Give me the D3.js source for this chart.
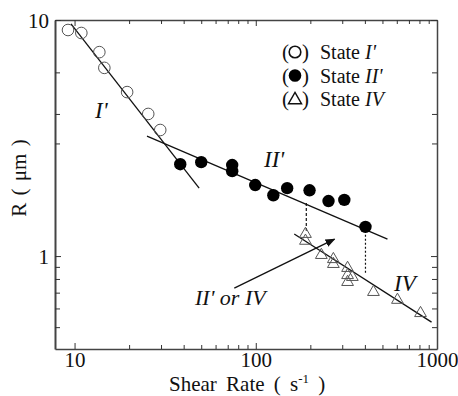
<!DOCTYPE html>
<html>
<head>
<meta charset="utf-8">
<script src="https://cdn.jsdelivr.net/npm/d3@7"></script>
<style>
  body { margin: 0; background: #fff; }
</style>
</head>
<body>
<div id="container"></div>
<script>
/* data: [shear rate, R] */
var stateI = [[9.2, 9.07], [10.9, 8.81], [13.7, 7.31], [14.6, 6.27], [19.5, 4.95], [25.5, 4.0], [29.7, 3.42]];
var stateII = [[38.3, 2.45], [50, 2.5], [74.1, 2.43], [74.1, 2.29], [99.3, 2.0], [125, 1.81], [149, 1.94],
               [198, 1.9], [252, 1.71], [308, 1.73], [403, 1.33]];
var stateIV = [[188, 1.24], [188, 1.16], [230, 1.01], [268, 0.97], [268, 0.925], [321, 0.89], [321, 0.83],
               [341, 0.815], [321, 0.776], [446, 0.704], [605, 0.652], [811, 0.573]];
var fitI = [[9.56, 9.62], [48.7, 1.94]];
var fitII = [[25.1, 3.22], [533, 1.18]];
var fitIV = [[163, 1.24], [933, 0.525]];
var dropLines = [[[190, 1.68], [190, 1.28]], [[403, 1.28], [403, 0.847]]];
var arrow = [[76.1, 0.732], [272, 1.18]];
var xTicks = [10, 20, 30, 40, 50, 60, 70, 80, 90, 100, 200, 300, 400, 500, 600, 700, 800, 900, 1000];
var xLabels = [10, 100, 1000];
var yTicks = [0.5, 0.6, 0.7, 0.8, 0.9, 1, 3, 4, 6, 10];
var yLabels = [1, 10];
var legendItems = ["I'", "II'", "IV"];

/* setup the dimensions */
var width = 458, height = 396;
var margin = { top: 20, bottom: 47, left: 55, right: 21 };
var serif = "Liberation Serif";

var x = d3.scaleLog().domain([7.8, 1000]).range([margin.left, width - margin.right]);
var y = d3.scaleLog().domain([0.404, 10]).range([height - margin.bottom, margin.top]);

var svg = d3.select("#container").append("svg")
  .attr("width", width).attr("height", height)
  .attr("font-family", serif);

svg.append("defs").append("marker")
  .attr("id", "head").attr("viewBox", "0 0 10 10")
  .attr("refX", 9).attr("refY", 5)
  .attr("markerWidth", 10).attr("markerHeight", 10)
  .attr("markerUnits", "userSpaceOnUse")
  .attr("orient", "auto")
  .append("path").attr("d", "M0,1L10,5L0,9Z").attr("fill", "#111");

/* axes, ticks pointing inward on all four sides */
function majorX(d) { return xLabels.indexOf(d) >= 0; }
function majorY(d) { return yLabels.indexOf(d) >= 0; }

var axBottom = svg.append("g").attr("transform", "translate(0," + y.range()[0] + ")")
  .call(d3.axisBottom(x).tickValues(xTicks).tickSizeOuter(0)
    .tickFormat(function(d) { return majorX(d) ? d : ""; }));
var axTop = svg.append("g").attr("transform", "translate(0," + margin.top + ")")
  .call(d3.axisTop(x).tickValues(xTicks).tickSizeOuter(0).tickFormat(""));
var axLeft = svg.append("g").attr("transform", "translate(" + margin.left + ",0)")
  .call(d3.axisLeft(y).tickValues(yTicks).tickSizeOuter(0)
    .tickFormat(function(d) { return majorY(d) ? d : ""; }));
var axRight = svg.append("g").attr("transform", "translate(" + x.range()[1] + ",0)")
  .call(d3.axisRight(y).tickValues(yTicks).tickSizeOuter(0).tickFormat(""));

[axBottom, axTop, axLeft, axRight].forEach(function(g) {
  g.attr("font-family", serif);
  g.select(".domain").attr("stroke", "#444").attr("stroke-width", 1.5);
  g.selectAll(".tick line").attr("stroke", "#333");
  g.selectAll("text").attr("font-family", serif).attr("font-size", 21).attr("fill", "#111");
});
axLeft.select(".domain").attr("stroke-width", 2);
axBottom.selectAll(".tick line").attr("y2", function(d) { return majorX(d) ? -6 : -4; });
axTop.selectAll(".tick line").attr("y2", function(d) { return majorX(d) ? 6 : 4; });
axLeft.selectAll(".tick line").attr("x2", function(d) { return majorY(d) ? 6 : 5; });
axRight.selectAll(".tick line").attr("x2", function(d) { return majorY(d) ? -6 : -5; });
axBottom.selectAll("text").attr("y", 3);
axLeft.selectAll("text").attr("x", -6).attr("dy", "0.35em");

/* axis titles */
var xt = svg.append("text").attr("x", 169).attr("y", 391)
  .attr("font-family", serif).attr("font-size", 21).attr("word-spacing", 4).attr("fill", "#111");
xt.append("tspan").text("Shear Rate ( s");
xt.append("tspan").attr("dy", -8).attr("font-size", 13).text("-1");
xt.append("tspan").attr("dy", 8).text(" )");

svg.append("text").attr("transform", "translate(26,178) rotate(-90)")
  .attr("text-anchor", "middle").attr("font-family", serif).attr("font-size", 21)
  .attr("word-spacing", 2).attr("fill", "#111").text("R ( \u03bcm )");

/* fitted lines, drop lines, arrow */
var line = d3.line().x(function(d) { return x(d[0]); }).y(function(d) { return y(d[1]); });
[fitI, fitII, fitIV].forEach(function(f) {
  svg.append("path").attr("d", line(f)).attr("fill", "none").attr("stroke", "#111").attr("stroke-width", 1.3);
});
svg.selectAll(".drop").data(dropLines).enter().append("path")
  .attr("class", "drop").attr("d", line).attr("fill", "none")
  .attr("stroke", "#111").attr("stroke-width", 1.2)
  .attr("stroke-dasharray", function(d, i) { return i == 0 ? "3,2" : "2,2"; });
svg.append("path").attr("d", line(arrow)).attr("fill", "none")
  .attr("stroke", "#111").attr("stroke-width", 1.3).attr("marker-end", "url(#head)");

/* points */
svg.selectAll(".sI").data(stateI).enter().append("circle")
  .attr("cx", function(d) { return x(d[0]); }).attr("cy", function(d) { return y(d[1]); })
  .attr("r", 5.8).attr("fill", "none").attr("stroke", "#555").attr("stroke-width", 1);
svg.selectAll(".sII").data(stateII).enter().append("circle")
  .attr("cx", function(d) { return x(d[0]); }).attr("cy", function(d) { return y(d[1]); })
  .attr("r", 6.2).attr("fill", "#000");
var tri = d3.symbol().type(d3.symbolTriangle).size(60);
svg.selectAll(".sIV").data(stateIV).enter().append("path")
  .attr("d", tri)
  .attr("transform", function(d) { return "translate(" + x(d[0]) + "," + y(d[1]) + ")"; })
  .attr("fill", "none").attr("stroke", "#555").attr("stroke-width", 1);

/* region labels */
function label(px, py, txt, size) {
  svg.append("text").attr("x", px).attr("y", py).attr("font-size", size)
    .attr("font-family", serif).attr("fill", "#111")
    .attr("font-style", "italic").text(txt);
}
label(95, 118, "I'", 23);
label(264, 167, "II'", 23);
label(394, 291, "IV", 23);
label(195, 305, "II' or IV", 22);

/* legend */
var lg = svg.append("g").attr("font-family", serif).attr("fill", "#111");
legendItems.forEach(function(s, i) {
  var by = 59 + i * 23.5;
  lg.append("text").attr("x", 282).attr("y", by).attr("font-size", 21).text("(");
  lg.append("text").attr("x", 302).attr("y", by).attr("font-size", 21).text(")");
  var t = lg.append("text").attr("x", 320).attr("y", by).attr("font-size", 20);
  t.append("tspan").text("State ");
  t.append("tspan").attr("font-style", "italic").text(s);
  var cy = by - 7;
  if (i == 0) lg.append("circle").attr("cx", 295).attr("cy", cy).attr("r", 5.8)
    .attr("fill", "none").attr("stroke", "#111").attr("stroke-width", 1.6);
  if (i == 1) lg.append("circle").attr("cx", 295).attr("cy", cy).attr("r", 6.3).attr("fill", "#000");
  if (i == 2) lg.append("path").attr("d", d3.symbol().type(d3.symbolTriangle).size(75))
    .attr("transform", "translate(295," + (cy + 1) + ")")
    .attr("fill", "none").attr("stroke", "#111").attr("stroke-width", 1.4);
});
</script>
</body>
</html>
